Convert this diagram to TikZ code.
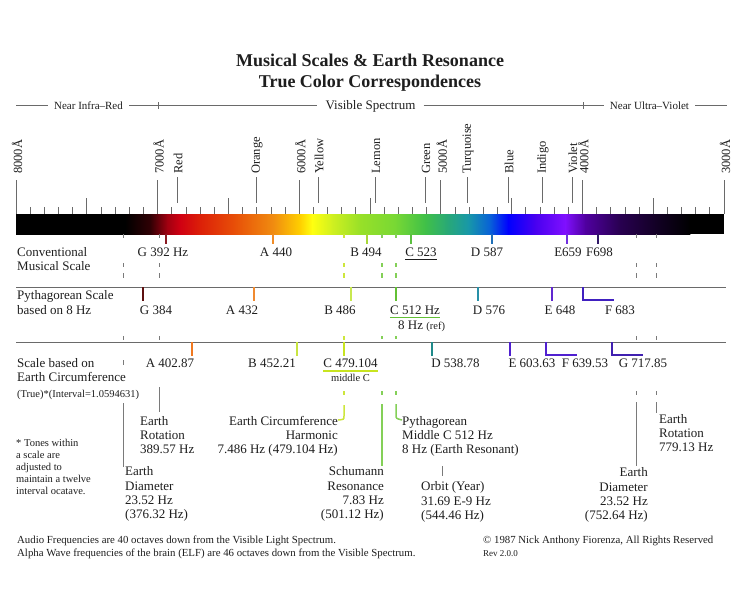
\documentclass[tikz,border=0pt]{standalone}
\usepackage{fontspec}
\setmainfont{Liberation Serif}
\definecolor{ink}{HTML}{1E1E1E}
\definecolor{axgray}{HTML}{6A6A6A}
\definecolor{guidegray}{HTML}{7A7A7A}
\definecolor{gyg}{HTML}{CDE63C}
\definecolor{glg}{HTML}{84D058}
% spectrum stops
\definecolor{s0}{HTML}{000000}
\definecolor{s1}{HTML}{000000}
\definecolor{s2}{HTML}{300004}
\definecolor{s3}{HTML}{A00010}
\definecolor{s4}{HTML}{D00012}
\definecolor{s5}{HTML}{DC2008}
\definecolor{s6}{HTML}{E85008}
\definecolor{s7}{HTML}{F08C10}
\definecolor{s8}{HTML}{FFD000}
\definecolor{s9}{HTML}{FFFF10}
\definecolor{s10}{HTML}{D0F020}
\definecolor{s11}{HTML}{98E028}
\definecolor{s12}{HTML}{78D834}
\definecolor{s13}{HTML}{40C048}
\definecolor{s14}{HTML}{28A878}
\definecolor{s15}{HTML}{1898A8}
\definecolor{s16}{HTML}{0860D8}
\definecolor{s17}{HTML}{0000FF}
\definecolor{s18}{HTML}{4800F0}
\definecolor{s19}{HTML}{8010FF}
\definecolor{s20}{HTML}{5000A0}
\definecolor{s21}{HTML}{280050}
\definecolor{s22}{HTML}{100020}
\definecolor{s23}{HTML}{000000}
% note colours
\definecolor{cG1}{HTML}{8B1A22}
\definecolor{cA1}{HTML}{F08C28}
\definecolor{cB1}{HTML}{A8D838}
\definecolor{cC1}{HTML}{5CC040}
\definecolor{cD1}{HTML}{2070B8}
\definecolor{cE1}{HTML}{7030E0}
\definecolor{cF1}{HTML}{301868}
\definecolor{cG2}{HTML}{5E1010}
\definecolor{cA2}{HTML}{F08A30}
\definecolor{cB2}{HTML}{C8E850}
\definecolor{cC2}{HTML}{62C034}
\definecolor{cD2}{HTML}{2890A8}
\definecolor{cE2}{HTML}{6028D0}
\definecolor{cF2}{HTML}{4020C0}
\definecolor{cA3}{HTML}{F07820}
\definecolor{cB3}{HTML}{C8E440}
\definecolor{cC3}{HTML}{C8E420}
\definecolor{cD3}{HTML}{208A8A}
\definecolor{cE3}{HTML}{5020D0}
\definecolor{cF3}{HTML}{5020D0}
\definecolor{cG3}{HTML}{4020B0}
\begin{document}
\begin{tikzpicture}[x=1pt,y=-1pt,
  every node/.style={text=ink},
  lab/.style={inner sep=0pt, font=\fontsize{13}{14}\selectfont},
  labs/.style={inner sep=0pt, font=\fontsize{13}{14.3}\selectfont},
  small/.style={inner sep=0pt, font=\fontsize{10.5}{12}\selectfont},
  foot/.style={inner sep=0pt, font=\fontsize{10.8}{13}\selectfont},
  tinyft/.style={inner sep=0pt, font=\fontsize{9}{11}\selectfont},
  rotlab/.style={inner sep=0pt, font=\fontsize{12.5}{14}\selectfont, rotate=90, anchor=west},
  hdr/.style={inner ysep=0pt, inner xsep=6pt, font=\fontsize{11}{13}\selectfont},
  hdrbig/.style={inner ysep=0pt, inner xsep=8pt, font=\fontsize{13}{15}\selectfont},
  titlefont/.style={inner sep=0pt, font=\fontsize{18}{20}\selectfont\bfseries},
  ax/.style={draw=axgray, line width=0.7pt},
  tk/.style={line width=1.8pt},
  brk/.style={line width=1.8pt},
  gguide/.style={draw=guidegray, line width=0.8pt},
  yguide/.style={draw=gyg, line width=1.5pt},
  lguide/.style={draw=glg, line width=1.5pt},
]
\useasboundingbox (0,0) rectangle (740,600);
\fill[white] (0,0) rectangle (740,600);

% ---------- title ----------
\node[titlefont, anchor=base] (t1) at (370,66) {Musical Scales \& Earth Resonance};
\node[titlefont, anchor=base] (t2) at (370,87) {True Color Correspondences};

% ---------- header ----------
\coordinate (h0) at (16,105.5);
\coordinate (h9) at (727,105.5);
\node[hdr] (nir) at (88.5,105.5) {Near Infra–Red};
\node[hdrbig] (vis) at (370.5,106) {Visible Spectrum};
\node[hdr] (nuv) at (649.5,105.5) {Near Ultra–Violet};
\draw[ax] (h0) -- (h0 -| nir.west);
\draw[ax] (h0 -| nir.east) -- (h0 -| vis.west);
\draw[ax] (h0 -| vis.east) -- (h0 -| nuv.west);
\draw[ax] (h0 -| nuv.east) -- (h9);
\draw[ax] (158,102) -- (158,109);
\draw[ax] (583,102) -- (583,109);

% ---------- spectrum bar ----------
\foreach \xa/\ca/\xb/\cb in {16/s0/125/s1,125/s1/150/s2,150/s2/167/s3,167/s3/180/s4,
  180/s4/200/s5,200/s5/235/s6,235/s6/273/s7,273/s7/300/s8,300/s8/312/s9,312/s9/332/s10,
  332/s10/360/s11,360/s11/395/s12,395/s12/425/s13,425/s13/448/s14,448/s14/468/s15,
  468/s15/490/s16,490/s16/508/s17,508/s17/535/s18,535/s18/565/s19,565/s19/585/s20,
  585/s20/620/s21,620/s21/660/s22,660/s22/690/s23}
  \shade[left color=\ca, right color=\cb] (\xa,214) rectangle (\xb+0.4,234);
\fill[black] (690,214) rectangle (724,234);

% scale ticks
\foreach \i in {0,...,50}{
  \pgfmathsetmacro\xx{16+\i*14.16}
  \pgfmathsetmacro\yt{mod(\i,10)==0 ? 180 : (mod(\i,5)==0 ? 198 : 207)}
  \draw[ax] (\xx,\yt) -- (\xx,214);
}
% wavelength labels
\foreach \i/\t in {0/8000Å,10/7000Å,20/6000Å,30/5000Å,40/4000Å,50/3000Å}{
  \pgfmathsetmacro\xx{16+\i*14.16}
  \node[rotlab] (w\i) at (\xx+1,174) {\t};
}
% colour labels
\foreach \x/\t in {177/Red,256/Orange,318/Yellow,375/Lemon,425/Green,467/Turquoise,508/Blue,542/Indigo,572/Violet}{
  \draw[ax] (\x,177) -- (\x,203);
  \node[rotlab] (c\t) at (\x+1,174) {\t};
}

% ---------- dashed guides ----------
\foreach \x in {123,159,636,656}{
  \foreach \ya/\yb in {234/238,263/267,273/278,336/340}
    \draw[gguide] (\x,\ya) -- (\x,\yb);
}
\draw[gguide] (123,360) -- (123,365);
\draw[gguide] (636,391) -- (636,395);
\draw[gguide] (656,391) -- (656,395);
\foreach \ya/\yb in {234/238,263/267,273/278,336/340,391/395}
  \draw[yguide] (344,\ya) -- (344,\yb);
\foreach \x in {382,396}{
  \foreach \ya/\yb in {234/238,263/267,273/278,336/339,391/395}
    \draw[lguide] (\x,\ya) -- (\x,\yb);
}

% ---------- row 1: conventional ----------
\node[lab, anchor=base west] (r1a) at (17,256.5) {Conventional};
\node[lab, anchor=base west] (r1b) at (17,270.5) {Musical Scale};
\foreach \x/\c in {165.7/cG1,273/cA1,367/cB1,411/cC1,492/cD1,567/cE1,598/cF1}
  \draw[tk, draw=\c] (\x,234) -- (\x,244);
\node[lab, anchor=base] (n1g) at (163,256.5) {G 392 Hz};
\node[lab, anchor=base] (n1a) at (276,256.5) {A 440};
\node[lab, anchor=base] (n1b) at (366,256.5) {B 494};
\node[lab, anchor=base] (n1c) at (421,256.5) {C 523};
\node[lab, anchor=base] (n1d) at (487,256.5) {D 587};
\node[lab, anchor=base] (n1e) at (568,256.5) {E659};
\node[lab, anchor=base] (n1f) at (599.5,256.5) {F698};
\draw[draw=ink, line width=0.6pt] ([yshift=-2.5pt]n1c.base west) -- ([yshift=-2.5pt]n1c.base east);

% ---------- row 2: pythagorean ----------
\draw[ax] (16,287) -- (726,287);
\node[lab, anchor=base west] (r2a) at (17,299.5) {Pythagorean Scale};
\node[lab, anchor=base west] (r2b) at (17,314.5) {based on 8 Hz};
\foreach \x/\c in {143/cG2,254/cA2,351/cB2,396/cC2,478/cD2,552/cE2}
  \draw[tk, draw=\c] (\x,287) -- (\x,301);
\draw[brk, draw=cF2] (583,287) -- (583,300) -- (614,300);
\node[lab, anchor=base] (n2g) at (156,314.5) {G 384};
\node[lab, anchor=base] (n2a) at (242,314.5) {A 432};
\node[lab, anchor=base] (n2b) at (340,314.5) {B 486};
\node[lab, anchor=base] (n2c) at (415,314.5) {C 512 Hz};
\node[lab, anchor=base] (n2d) at (489,314.5) {D 576};
\node[lab, anchor=base] (n2e) at (560,314.5) {E 648};
\node[lab, anchor=base] (n2f) at (620,314.5) {F 683};
\draw[draw=cC2, line width=1.5pt] ([yshift=-3pt]n2c.base west) -- ([yshift=-3pt]n2c.base east);
\node[lab, anchor=base west] (n2ref) at (398,329.5) {8 Hz {\fontsize{10.5}{12}\selectfont(ref)}};

% ---------- row 3: earth circumference ----------
\draw[ax] (16,342) -- (726,342);
\node[lab, anchor=base west] (r3a) at (17,367.5) {Scale based on};
\node[lab, anchor=base west] (r3b) at (17,381.5) {Earth Circumference};
\node[small, anchor=base west] (r3c) at (17,397) {(True)*(Interval=1.0594631)};
\foreach \x/\c in {192/cA3,297/cB3,344/cC3,432/cD3,510/cE3}
  \draw[tk, draw=\c] (\x,342) -- (\x,356);
\draw[brk, draw=cF3] (546,342) -- (546,355) -- (577,355);
\draw[brk, draw=cG3] (612,342) -- (612,355) -- (643,355);
\node[lab, anchor=base] (n3a) at (170,367.5) {A 402.87};
\node[lab, anchor=base] (n3b) at (272,367.5) {B 452.21};
\node[lab, anchor=base] (n3c) at (350.5,367.5) {C 479.104};
\node[lab, anchor=base] (n3d) at (455.5,367.5) {D 538.78};
\node[lab, anchor=base] (n3e) at (532,367.5) {E 603.63};
\node[lab, anchor=base] (n3f) at (585,367.5) {F 639.53};
\node[lab, anchor=base] (n3g) at (643,367.5) {G 717.85};
\draw[draw=cC3, line width=1.5pt] ([yshift=-3.5pt]n3c.base west) -- ([yshift=-3.5pt]n3c.base east);
\node[small, anchor=base] (midc) at (350.5,381.5) {middle C};

% ---------- lower annotations ----------
\node[lab, align=left, anchor=north west] (erl) at (140,416.6) {Earth\\Rotation\\389.57 Hz};
\node[lab, align=right, anchor=north east] (ech) at (338,416.6) {Earth Circumference\\Harmonic\\7.486 Hz (479.104 Hz)};
\node[lab, align=left, anchor=north west] (pyt) at (402,416.6) {Pythagorean\\Middle C 512 Hz\\8 Hz (Earth Resonant)};
\node[lab, align=left, anchor=north west] (err) at (659,414.6) {Earth\\Rotation\\779.13 Hz};
\node[small, align=left, anchor=north west] (tones) at (16,439.3) {* Tones within\\a scale are\\adjusted to\\maintain a twelve\\interval ocatave.};
\node[labs, align=left, anchor=north west] (edl) at (125,466.6) {Earth\\Diameter\\23.52 Hz\\(376.32 Hz)};
\node[labs, align=right, anchor=north east] (sch) at (384,466.6) {Schumann\\Resonance\\7.83 Hz\\(501.12 Hz)};
\node[labs, align=right, anchor=north east] (edr) at (648,467.6) {Earth\\Diameter\\23.52 Hz\\(752.64 Hz)};
\node[labs, align=left, anchor=north west] (orb) at (421,481.6) {Orbit (Year)\\31.69 E-9 Hz\\(544.46 Hz)};

% connectors to annotations
\coordinate (gEDl) at (123,403);
\coordinate (gERl) at (159,387);
\coordinate (gEDr) at (636,402);
\coordinate (gERr) at (656,402);
\coordinate (gSch) at (382,404);
\coordinate (gEch) at (344,405);
\coordinate (gPyt) at (396,404);
\coordinate (gOrb) at (442,466);
\draw[gguide] (gEDl) -- (gEDl |- edl.north);
\draw[gguide] (gERl) -- ++(0,25);
\draw[gguide] (gEDr) -- ++(0,64);
\draw[gguide] (gERr) -- ++(0,11);
\draw[gguide] (gOrb) -- ++(0,10);
\draw[lguide] (gSch) -- ++(0,62);
\draw[yguide] (gEch) -- ++(0,11) .. controls ++(0,3.5) .. (ech.north east |- 0,420);
\draw[lguide] (gPyt) -- ++(0,11) .. controls ++(0,3.5) .. (pyt.north west |- 0,420);

% ---------- footer ----------
\node[foot, anchor=base west] (f1) at (17,543.6) {Audio Frequencies are 40 octaves down from the Visible Light Spectrum.};
\node[foot, anchor=base west] (f2) at (17,556.6) {Alpha Wave frequencies of the brain (ELF) are 46 octaves down from the Visible Spectrum.};
\node[foot, anchor=base west] (f3) at (483,543.6) {© 1987 Nick Anthony Fiorenza, All Rights Reserved};
\node[tinyft, anchor=base west] (f4) at (483,556.6) {Rev 2.0.0};
\end{tikzpicture}
\end{document}
